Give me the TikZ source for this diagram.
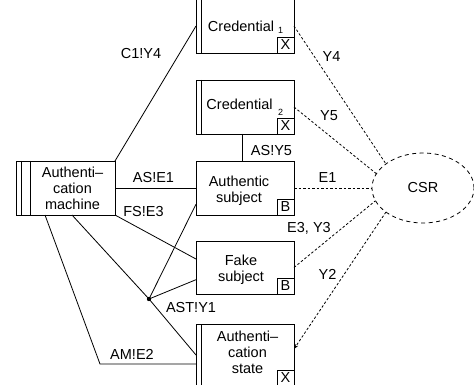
\documentclass[tikz,border=0pt]{standalone}
\usepackage{fontspec}
\setmainfont{Liberation Sans}
\usetikzlibrary{arrows.meta,shapes.geometric,calc}
\begin{document}
\begin{tikzpicture}[x=1pt,y=-1pt,
  every node/.style={inner sep=0pt, outer sep=0pt},
  txt/.style={font=\fontsize{14.5}{16}\selectfont, align=center},
  subidx/.style={font=\fontsize{9}{10}\selectfont, anchor=base},
  dom/.style={draw, line width=0.9pt, minimum width=98pt, anchor=north west},
  tagbox/.style={draw, line width=0.9pt, minimum width=17pt, minimum height=16pt,
    anchor=south east, font=\fontsize{14.5}{16}\selectfont},
  link/.style={line width=0.8pt},
  share/.style={line width=0.8pt, dash pattern=on 2.5pt off 2pt},
]
\useasboundingbox (0,0) rectangle (474,385);

% domains
\node[dom, minimum height=54pt] (cred1) at (196,-1) {};
\node[dom, minimum height=54pt] (cred2) at (196,80) {};
\node[dom, minimum height=54pt] (auth) at (196,161) {};
\node[dom, minimum height=53pt] (fake) at (196,241) {};
\node[dom, minimum height=62pt] (astate) at (196,324) {};
\node[dom, minimum width=99pt, minimum height=54pt] (mach) at (16,161) {};

% stripes of designed and machine domains
\foreach \d in {cred1,cred2,astate}
  \draw[line width=0.9pt] ($(\d.north west)+(5,0)$) -- ($(\d.south west)+(5,0)$);
\draw[line width=0.9pt] ($(mach.north west)+(5,0)$) -- ($(mach.south west)+(5,0)$);
\draw[line width=0.9pt] ($(mach.north west)+(14,0)$) -- ($(mach.south west)+(14,0)$);

% domain markers
\node[tagbox] (x1) at (cred1.south east) {X};
\node[tagbox] (x2) at (cred2.south east) {X};
\node[tagbox] (b1) at (auth.south east) {B};
\node[tagbox] (b2) at (fake.south east) {B};
\node[tagbox] (x3) at (astate.south east) {X};

% domain names
\node[txt, anchor=base] (t1) at (241,32) {Credential};
\node[subidx] (s1) at (280.5,33.5) {1};
\node[txt, anchor=base] (t2) at (239.5,110) {Credential};
\node[subidx] (s2) at (280.5,115.5) {2};
\node[txt] (t3) at (239,190.8) {Authentic\\subject};
\node[txt] (t4) at (241,269.3) {Fake\\subject};
\node[txt] (t5) at (247.5,352.8) {Authenti–\\cation\\state};
\node[txt] (t6) at (72.5,188.8) {Authenti–\\cation\\machine};

% requirement
\node[ellipse, draw, line width=0.8pt, dash pattern=on 4pt off 3.5pt,
  minimum width=102pt, minimum height=70pt, font=\fontsize{14.5}{16}\selectfont]
  (csr) at (423,188) {CSR};

% interfaces
\draw[link] (mach.north east) -- (cred1.west);
\draw[link] (mach.east) -- (auth.west);
\draw[link] (mach.south east) -- ($(fake.north west)!0.34!(fake.south west)$);
\coordinate (j) at (149,299);
\draw[link] ([xshift=6.5pt]mach.south) -- (j) -- (astate.west);
\draw[link] (j) -- ($(auth.north west)!0.8!(auth.south west)$);
\draw[link] (j) -- ($(fake.north west)!0.73!(fake.south west)$);
\fill (j) circle (2.2pt);
\coordinate (elb) at (100,364);
\draw[link] ([xshift=-20.5pt]mach.south) -- (elb) -- (astate.west |- elb);
\draw[link] ([xshift=-3pt]cred2.south) -- ([xshift=-3pt]auth.north);

% requirement references
\draw[share] (cred1.east) -- (csr.147);
\draw[share] (cred2.east) -- (csr.163);
\draw[share] (auth.east) -- (csr.west);
\draw[share] (fake.east) -- (csr.195);
\draw[share, -{Stealth[length=5pt,width=3.5pt]}] (csr.213) -- ([yshift=6pt]astate.east);

% labels
\node[txt] (l1) at (141,54) {C1!Y4};
\node[txt] (l2) at (153.5,178) {AS!E1};
\node[txt] (l3) at (143.5,212) {FS!E3};
\node[txt] (l4) at (191,308) {AST!Y1};
\node[txt] (l5) at (132,354) {AM!E2};
\node[txt] (l6) at (271.5,151) {AS!Y5};
\node[txt] (l7) at (331.5,57) {Y4};
\node[txt] (l8) at (329,116) {Y5};
\node[txt] (l9) at (327.5,178) {E1};
\node[txt] (l10) at (309,228) {E3, Y3};
\node[txt] (l11) at (327.5,274) {Y2};
\end{tikzpicture}
\end{document}
